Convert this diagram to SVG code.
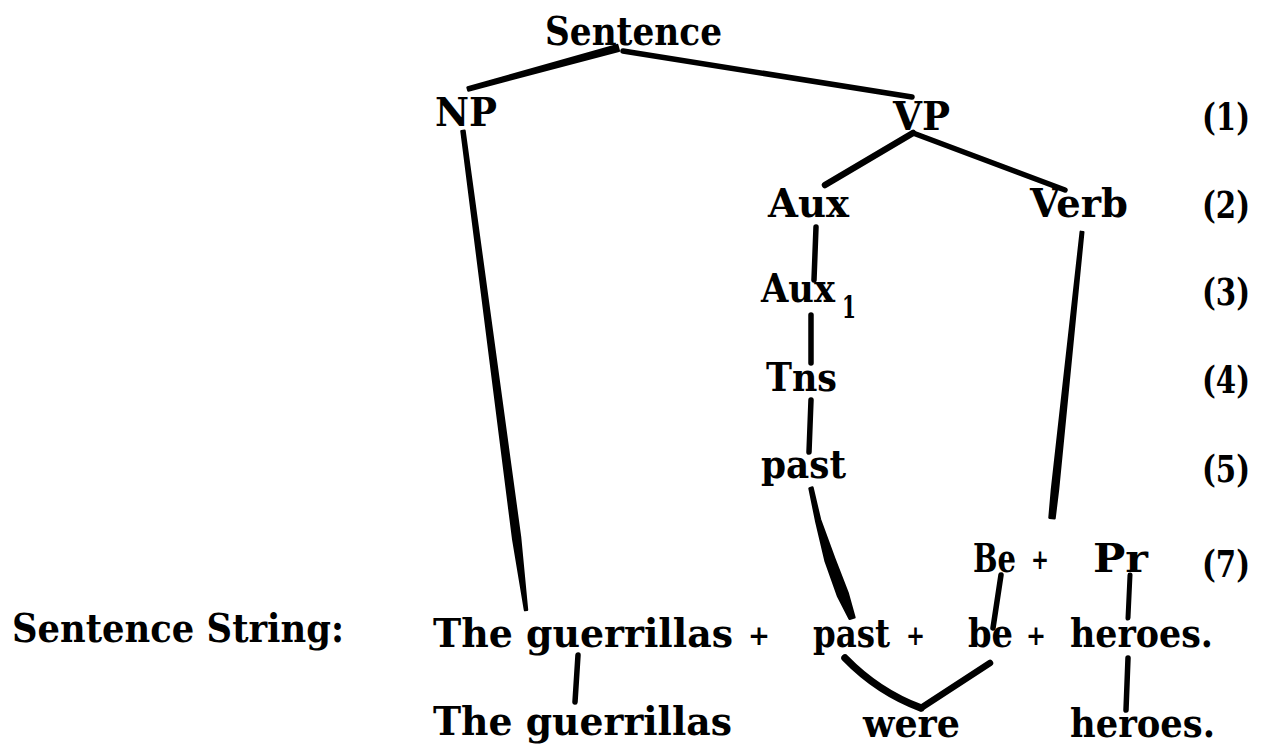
<svg xmlns="http://www.w3.org/2000/svg" width="1268" height="749" viewBox="0 0 1268 749">
<style>
text { font-family: "DejaVu Serif", "Liberation Serif", serif; font-weight: bold; fill: #000; }
.lbl { font-size: 40px; }
.num { font-size: 38px; }
.plus { font-size: 28px; }
.sub { font-size: 32px; }
.wire { fill: none; stroke: #000; stroke-linecap: round; stroke-linejoin: round; }
.w4 { stroke-width: 5; }
.w5 { stroke-width: 5.5; }
.w6 { stroke-width: 6.5; }
.w7 { stroke-width: 7.5; }
.taper { fill: #000; stroke: #000; stroke-width: 2.5; stroke-linejoin: round; }
</style>
<rect width="1268" height="749" fill="#ffffff"/>

<g id="connectors">
  <path class="taper" d="M467.6,87.55 L617.21,45.1 L618.79,50.9 L468.4,90.45 Z"/>
  <path class="wire w5" d="M623,51 L912,97"/>
  <path class="wire w6" d="M913,133 L825,185"/>
  <path class="wire w5" d="M913,133 L1065,190"/>
  <path class="wire w5" d="M816,227 L814,280"/>
  <path class="wire w5" d="M811,315 L811,363"/>
  <path class="wire w5" d="M811,400 L809,452"/>
  <path class="taper" d="M461.51,131.2 L464.49,130.8 L520.07,537.54 L526.99,609.87 L525.01,610.13 L513.13,538.46 Z"/>
  <path class="taper" d="M1080.76,231.87 L1083.24,232.13 L1057.98,489.71 L1054.49,518.26 L1049.51,517.74 L1052.02,489.09 Z"/>
  <path class="taper" d="M812.43,487.55 L819.91,519.4 L834.29,558.65 L847.77,593.5 L854.39,617.25 L849.61,618.75 L838.23,596.5 L825.71,561.35 L816.09,520.6 L809.57,488.45 Z"/>
  <path class="wire w5" d="M1001,575 L993,628"/>
  <path class="wire w4" d="M1130,575 L1128,618"/>
  <path class="wire w5" d="M578,655 L575,702"/>
  <path class="wire w7" d="M845,658 Q878,692 921,708"/>
  <path class="wire w6" d="M990,663 L921,708"/>
  <path class="wire w5" d="M1128,658 L1126,710"/>
</g>

<g id="node-sentence"><text class="lbl" x="545" y="45" textLength="177" lengthAdjust="spacingAndGlyphs">Sentence</text></g>
<g id="node-np"><text class="lbl" x="435" y="126" textLength="62" lengthAdjust="spacingAndGlyphs">NP</text></g>
<g id="node-vp"><text class="lbl" x="893" y="130" textLength="57" lengthAdjust="spacingAndGlyphs">VP</text></g>
<g id="node-aux"><text class="lbl" x="768" y="217" textLength="81" lengthAdjust="spacingAndGlyphs">Aux</text></g>
<g id="node-verb"><text class="lbl" x="1030" y="217" textLength="98" lengthAdjust="spacingAndGlyphs">Verb</text></g>
<g id="node-aux1">
  <text class="lbl" x="761" y="302" textLength="74" lengthAdjust="spacingAndGlyphs">Aux</text>
  <text class="sub" x="842" y="318" textLength="14" lengthAdjust="spacingAndGlyphs">1</text>
</g>
<g id="node-tns"><text class="lbl" x="766" y="391" textLength="71" lengthAdjust="spacingAndGlyphs">Tns</text></g>
<g id="node-past"><text class="lbl" x="761" y="478" textLength="85" lengthAdjust="spacingAndGlyphs">past</text></g>
<g id="node-be-pr">
  <text class="lbl" x="973" y="572" textLength="43" lengthAdjust="spacingAndGlyphs">Be</text>
  <text class="plus" x="1031" y="569" textLength="18" lengthAdjust="spacingAndGlyphs">+</text>
  <text class="lbl" x="1093" y="572" textLength="55" lengthAdjust="spacingAndGlyphs">Pr</text>
</g>

<g id="row-numbers">
  <text class="num" x="1202" y="130" textLength="48" lengthAdjust="spacingAndGlyphs">(1)</text>
  <text class="num" x="1202" y="218" textLength="48" lengthAdjust="spacingAndGlyphs">(2)</text>
  <text class="num" x="1202" y="305" textLength="48" lengthAdjust="spacingAndGlyphs">(3)</text>
  <text class="num" x="1202" y="393" textLength="48" lengthAdjust="spacingAndGlyphs">(4)</text>
  <text class="num" x="1202" y="482" textLength="48" lengthAdjust="spacingAndGlyphs">(5)</text>
  <text class="num" x="1202" y="577" textLength="48" lengthAdjust="spacingAndGlyphs">(7)</text>
</g>

<g id="label-sentence-string"><text class="lbl" x="12" y="642" textLength="332" lengthAdjust="spacingAndGlyphs">Sentence String:</text></g>

<g id="node-string">
  <text class="lbl" x="433" y="647" textLength="300" lengthAdjust="spacingAndGlyphs">The guerrillas</text>
  <text class="plus" x="748" y="645" textLength="22" lengthAdjust="spacingAndGlyphs">+</text>
  <text class="lbl" x="813" y="647" textLength="77" lengthAdjust="spacingAndGlyphs">past</text>
  <text class="plus" x="906" y="645" textLength="19" lengthAdjust="spacingAndGlyphs">+</text>
  <text class="lbl" x="968" y="647" textLength="45" lengthAdjust="spacingAndGlyphs">be</text>
  <text class="plus" x="1026" y="645" textLength="20" lengthAdjust="spacingAndGlyphs">+</text>
  <text class="lbl" x="1070" y="647" textLength="143" lengthAdjust="spacingAndGlyphs">heroes.</text>
</g>

<g id="node-the-guerrillas"><text class="lbl" x="433" y="735" textLength="299" lengthAdjust="spacingAndGlyphs">The guerrillas</text></g>
<g id="node-were"><text class="lbl" x="863" y="737" textLength="97" lengthAdjust="spacingAndGlyphs">were</text></g>
<g id="node-heroes"><text class="lbl" x="1070" y="737" textLength="145" lengthAdjust="spacingAndGlyphs">heroes.</text></g>
</svg>
